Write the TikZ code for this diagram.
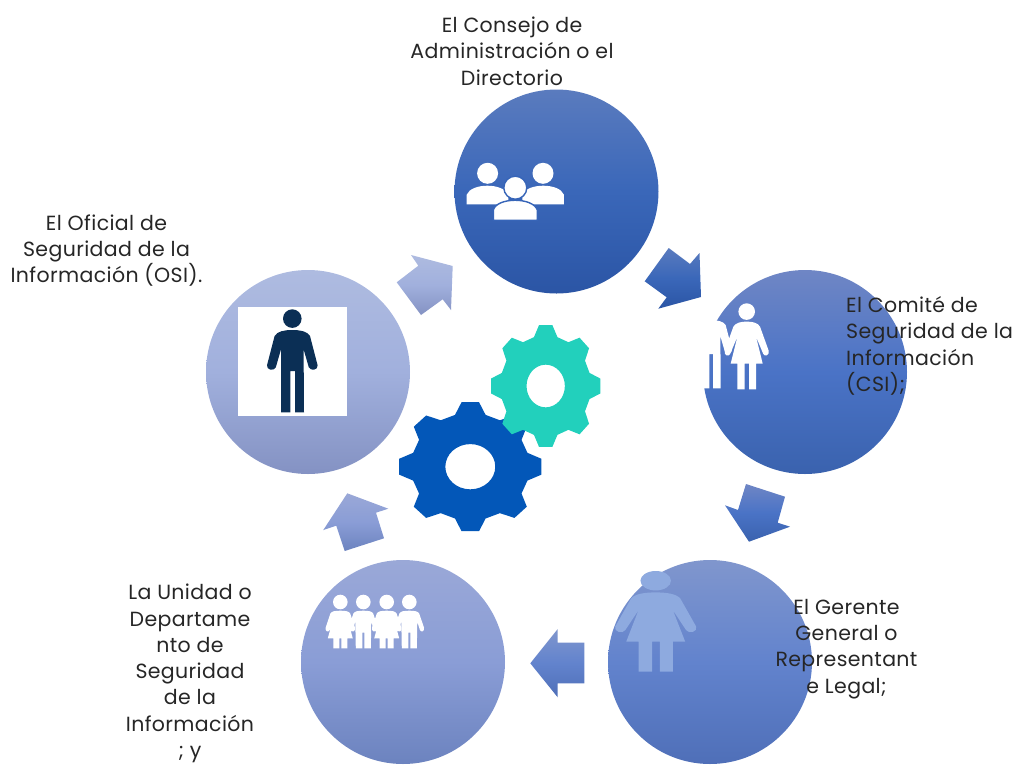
\documentclass[tikz,border=0pt]{standalone}
\usepackage{fontspec}
\setmainfont{Poppins}[LetterSpace=1.8]
\usepackage{tikz}
\definecolor{tintaosc}{HTML}{0B2F55}
\definecolor{azulgear}{HTML}{0357B8}
\definecolor{verdegear}{HTML}{22D0BC}
\definecolor{azulfig}{HTML}{8EAADF}
\definecolor{azulbase}{HTML}{3765B8}
\definecolor{c1a}{HTML}{5A7BBE}\definecolor{c1b}{HTML}{3A67B9}\definecolor{c1c}{HTML}{2B55A5}
\definecolor{c2a}{HTML}{6F86C5}\definecolor{c2b}{HTML}{4A73C6}\definecolor{c2c}{HTML}{3A62AE}
\definecolor{c3a}{HTML}{8096CD}\definecolor{c3b}{HTML}{6283CD}\definecolor{c3c}{HTML}{4F6FB8}
\definecolor{c4a}{HTML}{9AA8D7}\definecolor{c4b}{HTML}{8A9DD6}\definecolor{c4c}{HTML}{6C83BF}
\definecolor{c5a}{HTML}{AEBBE0}\definecolor{c5b}{HTML}{A1B0DD}\definecolor{c5c}{HTML}{8492C3}
\tikzset{
  tono/.style n args={3}{top color=#1, bottom color=#3, middle color=#2},
  tonoa/.style={tono={c1a}{c1b}{c1c}},
  tonob/.style={tono={c2a}{c2b}{c2c}},
  tonoc/.style={tono={c3a}{c3b}{c3c}},
  tonod/.style={tono={c4a}{c4b}{c4c}},
  tonoe/.style={tono={c5a}{c5b}{c5c}},
  etapa/.style={circle, minimum size=204pt, inner sep=0pt},
  rotulo/.style={font=\fontsize{20.5}{26.3}\selectfont, align=center, inner sep=0pt, text=black!85},
  hombre/.pic={
    \path[pic actions] (0,9.3) circle (9.3);
    \path[pic actions] (0,20.7) .. controls (8,20.7) and (15,22) .. (17.7,26.7)
      -- (25.3,56) .. controls (26,61) and (18,62) .. (16.5,58) -- (11.3,40) -- (11.7,103)
      -- (2.7,103) -- (2.7,61.7) -- (-2,61.7) -- (-2,103) -- (-11.3,103) -- (-11.3,40)
      -- (-16.5,58) .. controls (-18,62) and (-26,61) .. (-25.3,56) -- (-17.7,26.7)
      .. controls (-15,22) and (-8,20.7) .. (0,20.7) -- cycle;
  },
  mujer/.pic={
    \path[pic actions] (0,8.3) circle (8.3);
    \path[pic actions] (0,18.3) .. controls (6,18.3) and (11,19.5) .. (13.3,23.3)
      -- (22,47.5) .. controls (23,52) and (18,54) .. (16.5,50.5) -- (9.3,33.3) -- (16,60.3)
      -- (9.3,60.3) -- (9.3,86) -- (2.3,86) -- (2.3,60.3) -- (-2,60.3) -- (-2,86) -- (-9.3,86)
      -- (-9.3,60.3) -- (-16,60.3) -- (-9.3,33.3) -- (-16.5,50.5)
      .. controls (-18,54) and (-23,52) .. (-22,47.5) -- (-13.3,23.3)
      .. controls (-11,19.5) and (-6,18.3) .. (0,18.3) -- cycle;
  },
  nino/.pic={
    \path[pic actions] (0,7.3) circle (7.3);
    \path[pic actions] (0,16) .. controls (5,16) and (9,16.5) .. (10,19)
      -- (14.7,33) .. controls (15.5,37) and (11.5,38) .. (10.5,35) -- (8,27) -- (7.5,53.7)
      -- (1,53.7) -- (1,38) -- (-1,38) -- (-1,53.7) -- (-7.5,53.7) -- (-8,27)
      -- (-10.5,35) .. controls (-11.5,38) and (-15.5,37) .. (-14.7,33) -- (-10,19)
      .. controls (-9,16.5) and (-5,16) .. (0,16) -- cycle;
  },
  nina/.pic={
    \path[pic actions] (0,7.3) circle (7.3);
    \path[pic actions] (0,16) .. controls (5,16) and (9,16.5) .. (10,19)
      -- (14.7,33) .. controls (15.5,37) and (11.5,38) .. (10.5,35) -- (8,27) -- (12.5,43.7)
      -- (7,43.7) -- (7,53.7) -- (1,53.7) -- (1,43.7) -- (-1,43.7) -- (-1,53.7) -- (-7,53.7)
      -- (-7,43.7) -- (-12.5,43.7) -- (-8,27)
      -- (-10.5,35) .. controls (-11.5,38) and (-15.5,37) .. (-14.7,33) -- (-10,19)
      .. controls (-9,16.5) and (-5,16) .. (0,16) -- cycle;
  },
  grupo/.pic={
    \path[pic actions] (-27.7,-14.4) circle (10.5) (27.7,-14.4) circle (10.5);
    \path[pic actions] (-48.6,16.6) -- (-48.6,7) .. controls (-44,-5) and (-12,-5) .. (-7,7) -- (-7,16.6) -- cycle;
    \path[pic actions] (7,16.6) -- (7,7) .. controls (12,-5) and (44,-5) .. (48.6,7) -- (48.6,16.6) -- cycle;
  },
}
\newcommand{\engrane}[5]{
  \fill[#5, even odd rule, shift={(#1,#2)}, xscale=#3, yscale=#4] (-7:1)
    \foreach \ang in {0,45,...,315} {
      -- (\ang+7:1) -- (\ang+15:.825) -- (\ang+30:.825) -- (\ang+38:1)
    } -- cycle
    (0,0) circle (.348);
}
\begin{document}
\begin{tikzpicture}[x=1pt, y=-1pt]
  \useasboundingbox (0,0) rectangle (1021,764);
  % etapas
  \node[etapa, tonoa] (consejo) at (556.5,191.5) {};
  \node[etapa, tonob] (comite) at (805,372) {};
  \node[etapa, tonoc] (gerente) at (710,662) {};
  \node[etapa, tonod] (unidad) at (403,662) {};
  \node[etapa, tonoe] (oficial) at (308,372) {};
  % flechas
  \shade[tonoa] (699.5,253) -- (701,297) -- (658.3,308.7) -- (666.7,297.3) -- (644.7,281.3) -- (668.7,248) -- (690,264) -- cycle;
  \shade[tonob] (725,505.3) -- (749,541.7) -- (790,526.7) -- (777.7,522.7) -- (785,496.7) -- (746,484) -- (738,510) -- cycle;
  \shade[tonoc] (530.3,663.3) -- (557.7,629) -- (557.7,642.7) -- (584.3,642.7) -- (584.3,683.3) -- (557.7,683.3) -- (557.7,697.3) -- cycle;
  \shade[tonod] (347.3,493.3) -- (388.3,508.7) -- (376,512.7) -- (384,538.3) -- (344.7,551) -- (336.3,525.7) -- (323.3,530) -- cycle;
  \shade[tonoe] (411,255) -- (452.7,266) -- (451,310) -- (442.7,299.3) -- (421,315) -- (396.7,282.3) -- (418.3,265.7) -- cycle;
  % engranes
  \engrane{470.3}{466.7}{71.7}{65}{azulgear}
  \engrane{545.7}{386}{55}{61.3}{verdegear}
  % figuras
  \pic[fill=white] at (515.3,187.7) {grupo};
  \fill[white, draw=azulbase, line width=1.4pt] (515.3,187.7) circle (11.5);
  \fill[white, draw=azulbase, line width=1.4pt] (493.3,220.3) -- (493.3,210) .. controls (497,197) and (533,197) .. (537.3,210) -- (537.3,220.3) -- cycle;
  \pic[fill=white, scale=.83] at (711,303) {hombre};
  \pic[fill=white] at (746.7,303.3) {mujer};
  \pic[fill=azulfig, xscale=1.84, yscale=1.17] at (655.7,571) {mujer};
  \pic[fill=white] at (340.3,594.7) {nina};
  \pic[fill=white] at (363.3,594.7) {nino};
  \pic[fill=white] at (386.7,594.7) {nina};
  \pic[fill=white] at (409.3,594.7) {nino};
  \node[fill=white, minimum width=109.3pt, minimum height=108.7pt, inner sep=0pt] (marco) at (292.4,361.4) {};
  \pic[fill=tintaosc] at (292.3,309.3) {hombre};
  % rotulos
  \node[rotulo] (t1) at (512,51) {El Consejo de\\Administración o el\\Directorio};
  \node[rotulo, align=left, anchor=west] (t2) at (846,346) {El Comité de\\Seguridad de la\\Información\\(CSI);};
  \node[rotulo] (t3) at (846.5,649) {El Gerente\\General o\\Representant\\e Legal;};
  \node[rotulo] (t4) at (190,673.5) {La Unidad o\\Departame\\nto de\\Seguridad\\de la\\Información\\; y};
  \node[rotulo] (t5) at (106.5,250.5) {El Oficial de\\Seguridad de la\\Información (OSI).};
\end{tikzpicture}
\end{document}
